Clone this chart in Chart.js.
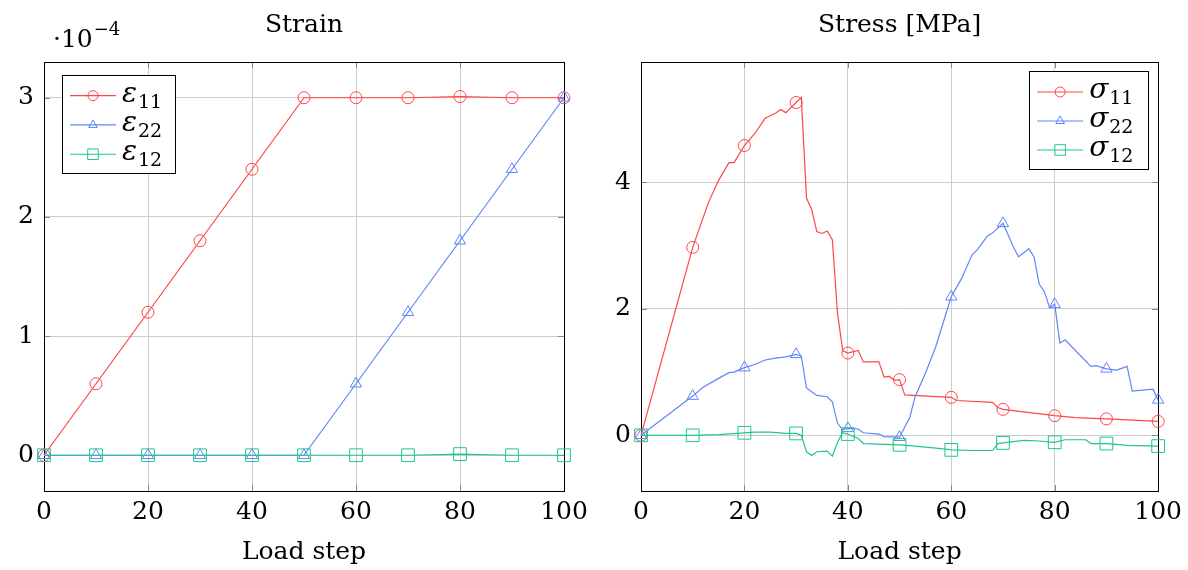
<!DOCTYPE html>
<html>
<head>
<meta charset="utf-8">
<script src="https://cdn.jsdelivr.net/npm/chart.js@4.4.1/dist/chart.umd.min.js"></script>
<style>
  html, body { margin: 0; background: #fff; }
  .panel { position: absolute; top: 0; width: 594px; height: 570px; }
</style>
</head>
<body>
<div class="panel" style="left:0"><canvas id="strain"></canvas></div>
<div class="panel" style="left:594px"><canvas id="stress"></canvas></div>
<script>
// strain (x 1e-4), sampled every 10 load steps
const strainSteps = [0, 10, 20, 30, 40, 50, 60, 70, 80, 90, 100]
const eps11 = [0, 0.6, 1.2, 1.8, 2.4, 3.0, 3.0, 3.0, 3.01, 3.0, 3.0]
const eps22 = [0, 0, 0, 0, 0, 0, 0.6, 1.2, 1.8, 2.4, 3.0]
const eps12 = [0, 0, 0, 0, 0, 0, 0, 0, 0.01, 0, 0]

// stress [MPa] at their corners
const s11Steps = [0, 10, 13, 15, 17, 18, 20, 22, 24, 26, 27, 28, 30, 31, 32, 33, 34, 35, 36, 37, 38, 39, 40, 42, 43, 46, 47, 48, 49, 50, 51, 60, 61, 68, 69, 70, 74, 80, 84, 90, 100]
const s11 = [0, 2.97, 3.67, 4.03, 4.31, 4.31, 4.58, 4.77, 5.01, 5.09, 5.15, 5.10, 5.26, 5.34, 3.75, 3.57, 3.22, 3.19, 3.23, 3.09, 1.93, 1.34, 1.30, 1.34, 1.16, 1.16, 0.92, 0.93, 0.87, 0.88, 0.64, 0.60, 0.55, 0.52, 0.44, 0.41, 0.37, 0.31, 0.28, 0.26, 0.22]
const s22Steps = [0, 10, 12, 15, 17, 18, 20, 22, 24, 26, 28, 30, 31, 32, 33, 34, 36, 37, 38, 39, 40, 42, 43, 46, 47, 50, 52, 53, 55, 57, 59, 60, 62, 64, 65, 67, 68, 70, 72, 73, 75, 76, 77, 78, 79, 80, 81, 82, 84, 87, 88, 90, 92, 94, 95, 99, 100]
const s22 = [0, 0.62, 0.76, 0.90, 0.99, 1.00, 1.07, 1.12, 1.19, 1.22, 1.24, 1.28, 1.25, 0.75, 0.69, 0.63, 0.61, 0.53, 0.19, 0.09, 0.11, 0.10, 0.04, 0.02, -0.02, -0.03, 0.29, 0.61, 0.98, 1.40, 1.93, 2.19, 2.48, 2.85, 2.93, 3.15, 3.20, 3.35, 2.98, 2.82, 2.95, 2.82, 2.39, 2.27, 2.02, 2.07, 1.46, 1.51, 1.34, 1.09, 1.10, 1.05, 1.03, 1.09, 0.70, 0.73, 0.56]
const s12Steps = [0, 10, 15, 20, 22, 25, 28, 30, 31, 32, 33, 34, 36, 37, 38, 39, 40, 42, 43, 50, 54, 58, 60, 64, 68, 69, 70, 74, 77, 80, 82, 86, 87, 90, 94, 100]
const s12 = [0, 0, 0.01, 0.04, 0.05, 0.05, 0.03, 0.03, 0.00, -0.26, -0.32, -0.26, -0.25, -0.33, -0.11, 0.04, 0.02, -0.05, -0.13, -0.15, -0.18, -0.21, -0.23, -0.24, -0.24, -0.13, -0.12, -0.08, -0.09, -0.11, -0.07, -0.07, -0.13, -0.13, -0.16, -0.17]

const stepTicks = [0, 20, 40, 60, 80, 100]
const strainTicks = [0, 1, 2, 3]
const stressTicks = [0, 2, 4]

const FONT = '"DejaVu Serif", serif'
const RED = "#ff4646"
const BLUE = "#5f86fa"
const GREEN = "#1fc68c"

const pts = (xs, ys) => xs.map((x, i) => ({ x, y: ys[i] }))

// pgfplots-style marker outline (same geometry as Chart.js point styles)
function mark(ctx, style, x, y, r) {
  ctx.beginPath()
  if (style === "circle") {
    ctx.arc(x, y, r, 0, Math.PI * 2)
  } else if (style === "triangle") {
    for (let k = 0; k < 3; k++) {
      const a = k * 2 * Math.PI / 3
      const px = x + Math.sin(a) * r, py = y - Math.cos(a) * r
      k ? ctx.lineTo(px, py) : ctx.moveTo(px, py)
    }
    ctx.closePath()
  } else {
    const s = r * Math.SQRT1_2
    ctx.rect(x - s, y - s, 2 * s, 2 * s)
  }
  ctx.stroke()
}

function series(label, sub, color, style, r, data, order) {
  return {
    label: label + sub, sym: label, sub, data, order,
    borderColor: color, backgroundColor: "transparent", borderWidth: 1.2,
    pointStyle: style, pointBorderWidth: 1, pointBorderColor: color, pointBackgroundColor: "transparent",
    pointRadius: (c) => (c.raw && c.raw.x % 10 === 0 ? r : 0),
    pointHoverRadius: (c) => (c.raw && c.raw.x % 10 === 0 ? r : 0),
    tension: 0, clip: false,
  }
}

// axis box, inner tick marks, boxed legend and the 10^-4 factor
const pgf = {
  id: "pgf",
  beforeDatasetsDraw(chart) {
    const { ctx, chartArea: a, scales } = chart
    ctx.save()
    ctx.strokeStyle = "#888"
    ctx.lineWidth = 1
    ctx.beginPath()
    scales.x.ticks.forEach((t) => {
      const px = Math.round(scales.x.getPixelForValue(t.value)) + 0.5
      ctx.moveTo(px, a.bottom); ctx.lineTo(px, a.bottom - 6)
      ctx.moveTo(px, a.top); ctx.lineTo(px, a.top + 6)
    })
    scales.y.ticks.forEach((t) => {
      const py = Math.round(scales.y.getPixelForValue(t.value)) + 0.5
      ctx.moveTo(a.left, py); ctx.lineTo(a.left + 6, py)
      ctx.moveTo(a.right, py); ctx.lineTo(a.right - 6, py)
    })
    ctx.stroke()
    ctx.strokeStyle = "#000"
    ctx.strokeRect(Math.round(a.left) + 0.5, Math.round(a.top) + 0.5, Math.round(a.right - a.left), Math.round(a.bottom - a.top))
    ctx.restore()
  },
  afterDatasetsDraw(chart, args, o) {
    const { ctx, chartArea: a } = chart
    const sets = chart.data.datasets
    const h = o.padTop + sets.length * o.rowH + 4
    const x = o.side === "right" ? a.right - o.dx - o.width : a.left + o.dx
    const y = a.top + o.dy
    ctx.save()
    ctx.fillStyle = "#fff"
    ctx.fillRect(x, y, o.width, h)
    ctx.strokeStyle = "#000"
    ctx.lineWidth = 1
    ctx.strokeRect(Math.round(x) + 0.5, Math.round(y) + 0.5, o.width, Math.round(h))
    sets.forEach((ds, i) => {
      const cy = y + o.padTop + o.rowH * (i + 0.5)
      ctx.strokeStyle = ds.borderColor
      ctx.lineWidth = 1.2
      ctx.beginPath(); ctx.moveTo(x + 8, cy); ctx.lineTo(x + 54, cy); ctx.stroke()
      ctx.lineWidth = 1
      mark(ctx, ds.pointStyle, x + 31, cy, ds.pointStyle === "rect" ? 7.5 : 5)
      ctx.fillStyle = "#000"
      ctx.textBaseline = "alphabetic"
      ctx.textAlign = "left"
      ctx.font = "italic 28px " + FONT
      ctx.fillText(ds.sym, x + 60, cy + 6)
      const w = ctx.measureText(ds.sym).width
      ctx.font = "19px " + FONT
      ctx.fillText(ds.sub, x + 61 + w, cy + 12)
    })
    if (o.factor) {
      ctx.fillStyle = "#000"
      ctx.textAlign = "left"
      ctx.textBaseline = "alphabetic"
      ctx.font = "25px " + FONT
      ctx.fillText("·10", a.left + 9, 47)
      const w = ctx.measureText("·10").width
      ctx.font = "18px " + FONT
      ctx.fillText("−4", a.left + 10 + w, 35)
    }
    ctx.restore()
  },
}

function options(title, yMin, yMax, yTicks, yWidth, padRight, legend) {
  const font = { family: FONT, size: 25 }
  return {
    animation: false,
    responsive: true,
    maintainAspectRatio: false,
    layout: { padding: { left: 0, right: padRight, top: 0, bottom: 0 } },
    plugins: {
      legend: { display: false },
      tooltip: { enabled: false },
      title: { display: true, text: title, color: "#000", font: { ...font, weight: "normal" }, fullSize: false, padding: { top: 10, bottom: 22 } },
      pgf: legend,
    },
    scales: {
      x: {
        type: "linear", min: 0, max: 100,
        afterBuildTicks: (s) => { s.ticks = stepTicks.map((value) => ({ value })) },
        afterFit: (s) => { s.height = 79 },
        ticks: { color: "#000", font, padding: 6, maxRotation: 0, autoSkip: false },
        grid: { color: "#cccccc", lineWidth: 1, drawTicks: false },
        border: { color: "#000", width: 1 },
        title: { display: true, text: "Load step", color: "#000", font, padding: { top: 0, bottom: 3 } },
      },
      y: {
        type: "linear", min: yMin, max: yMax,
        afterBuildTicks: (s) => { s.ticks = yTicks.map((value) => ({ value })) },
        afterFit: (s) => { s.width = yWidth },
        ticks: { color: "#000", font, padding: 10, autoSkip: false },
        grid: { color: "#cccccc", lineWidth: 1, drawTicks: false },
        border: { color: "#000", width: 1 },
      },
    },
  }
}

new Chart(document.getElementById("strain"), {
  type: "line",
  data: {
    datasets: [
      series("ε", "11", RED, "circle", 6, pts(strainSteps, eps11), 2),
      series("ε", "22", BLUE, "triangle", 6.5, pts(strainSteps, eps22), 1),
      series("ε", "12", GREEN, "rect", 9, pts(strainSteps, eps12), 0),
    ],
  },
  options: options("Strain", -0.3, 3.3, strainTicks, 44, 30,
    { side: "left", dx: 18, dy: 13, width: 113, padTop: 6, rowH: 29.3, factor: true }),
  plugins: [pgf],
})

new Chart(document.getElementById("stress"), {
  type: "line",
  data: {
    datasets: [
      series("σ", "11", RED, "circle", 6, pts(s11Steps, s11), 2),
      series("σ", "22", BLUE, "triangle", 6.5, pts(s22Steps, s22), 1),
      series("σ", "12", GREEN, "rect", 9, pts(s12Steps, s12), 0),
    ],
  },
  options: options("Stress [MPa]", -0.88, 5.9, stressTicks, 47, 28,
    { side: "right", dx: 10, dy: 9, width: 119, padTop: 6.5, rowH: 29, factor: false }),
  plugins: [pgf],
})
</script>
</body>
</html>
